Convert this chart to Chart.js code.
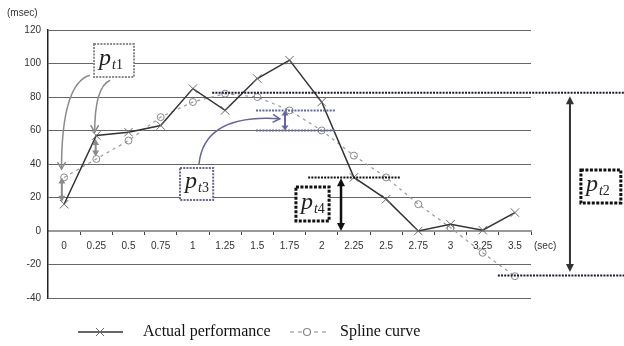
<!DOCTYPE html>
<html><head><meta charset="utf-8">
<script src="https://cdn.jsdelivr.net/npm/chart.js@4.4.0/dist/chart.umd.min.js"></script>
<style>html,body{margin:0;padding:0;background:#fff;}canvas{display:block}</style>
</head><body>
<canvas id="c" width="624" height="346"></canvas>
<script>
const categories = ['0','0.25','0.5','0.75','1','1.25','1.5','1.75','2','2.25','2.5','2.75','3','3.25','3.5'];
const actualPerformance = [16, 57, 59, 63, 85, 72, 91, 102, 77, 32, 19, 0, 4, 0.5, 11];
const splineCurve = [32, 43, 54, 68, 77, 82, 80, 72, 60, 45, 32, 16, 2, -13, -27];
const yMin = -40, yMax = 120, yStep = 20;
const yUnitLabel = '(msec)';
const xUnitLabel = '(sec)';
const legendLabels = ['Actual performance', 'Spline curve'];

const SERIF = '"Liberation Serif", "DejaVu Serif", serif';
const SANS = '"Liberation Sans", Arial, sans-serif';

function dotLine(ctx, x1, y1, x2, y2, color, w, dash) {
  ctx.save(); ctx.strokeStyle = color; ctx.lineWidth = w; ctx.setLineDash(dash);
  ctx.beginPath(); ctx.moveTo(x1, y1); ctx.lineTo(x2, y2); ctx.stroke(); ctx.restore();
}
function head(ctx, x, y, ang, color, len, wid) {
  ctx.save(); ctx.fillStyle = color; ctx.translate(x, y); ctx.rotate(ang);
  ctx.beginPath(); ctx.moveTo(0, 0); ctx.lineTo(-len, -wid); ctx.lineTo(-len, wid); ctx.closePath(); ctx.fill(); ctx.restore();
}
function dblArrow(ctx, x, y1, y2, color, w, len, wid) {
  ctx.save(); ctx.strokeStyle = color; ctx.lineWidth = w;
  ctx.beginPath(); ctx.moveTo(x, y1 + len - 1); ctx.lineTo(x, y2 - len + 1); ctx.stroke(); ctx.restore();
  head(ctx, x, y1, -Math.PI / 2, color, len, wid);
  head(ctx, x, y2, Math.PI / 2, color, len, wid);
}
function curveArrow(ctx, x1, y1, cx, cy, x2, y2, color, w) {
  ctx.save(); ctx.strokeStyle = color; ctx.lineWidth = w;
  ctx.beginPath(); ctx.moveTo(x1, y1); ctx.quadraticCurveTo(cx, cy, x2, y2); ctx.stroke();
  const ang = Math.atan2(y2 - cy, x2 - cx);
  ctx.translate(x2, y2); ctx.rotate(ang);
  ctx.beginPath(); ctx.moveTo(-7, -4); ctx.lineTo(0, 0); ctx.lineTo(-7, 4); ctx.stroke();
  ctx.restore();
}
function ptBox(ctx, x1, y1, x2, y2, sub, color, w, dash) {
  ctx.save();
  ctx.fillStyle = '#fff'; ctx.fillRect(x1, y1, x2 - x1, y2 - y1);
  ctx.strokeStyle = color; ctx.lineWidth = w; ctx.setLineDash(dash);
  ctx.strokeRect(x1, y1, x2 - x1, y2 - y1);
  ctx.setLineDash([]);
  ctx.fillStyle = '#222'; ctx.textBaseline = 'alphabetic'; ctx.textAlign = 'left';
  const h = y2 - y1;
  ctx.font = 'italic 24px ' + SERIF;
  const px = x1 + 5, py = y1 + h * 0.64;
  ctx.fillText('p', px, py);
  const pw = ctx.measureText('p').width;
  ctx.font = 'italic 14px ' + SERIF;
  ctx.fillText('t', px + pw + 1, py + 4);
  const tw = ctx.measureText('t').width;
  ctx.font = '14px ' + SERIF;
  ctx.fillText(sub, px + pw + 1 + tw, py + 4);
  ctx.restore();
}

const annotationPlugin = {
  id: 'annot',
  afterDraw(chart) {
    const ctx = chart.ctx, xs = chart.scales.x, ys = chart.scales.y;
    const X = i => xs.getPixelForValue(i), Y = v => ys.getPixelForValue(v);
    const W = chart.width;
    const gray = '#8a8a8a', purple = '#66669a', black = '#111';

    // p_t1 group
    dblArrow(ctx, X(-0.07), Y(32), Y(17.5), gray, 2, 6, 3.5);
    dblArrow(ctx, X(0.98), Y(55), Y(44.5), gray, 2, 6, 3.5);
    curveArrow(ctx, X(0.8), Y(93), X(-0.08), Y(88), X(-0.08), Y(37), gray, 1.5);
    curveArrow(ctx, X(1.43), Y(90), X(0.95), Y(86), X(0.95), Y(59), gray, 1.5);
    ptBox(ctx, X(0.93), Y(111.6), X(2.17), Y(91.9), '1', gray, 2, [2, 1.2]);

    // p_t3 group
    dotLine(ctx, X(5.96), Y(72), X(8.41), Y(72), purple, 2, [2, 1.2]);
    dotLine(ctx, X(5.96), Y(60), X(8.41), Y(60), purple, 2, [2, 1.2]);
    dblArrow(ctx, X(6.86), Y(72), Y(60), purple, 2, 5, 3.5);
    curveArrow(ctx, X(4.19), Y(40), X(4.35), Y(70), X(6.7), Y(67), purple, 1.5);
    ptBox(ctx, X(3.6), Y(37.6), X(4.63), Y(18.5), '3', purple, 2, [2, 1.2]);

    // p_t2 group
    dotLine(ctx, X(4.6), Y(82.5), W, Y(82.5), '#1a1a33', 2, [2, 1.2]);
    dotLine(ctx, X(13.47), Y(-26.5), W, Y(-26.5), '#1a1a33', 2, [2, 1.2]);
    dblArrow(ctx, X(15.71), Y(80.5), Y(-24.5), '#333', 2, 8, 4);
    ptBox(ctx, X(16.05), Y(36.4), X(17.29), Y(16.7), '2', black, 3, [3, 1.5]);

    // p_t4 group
    dotLine(ctx, X(7.58), Y(32), X(10.43), Y(32), black, 2, [2, 1.2]);
    dblArrow(ctx, X(8.6), Y(31.5), Y(0), black, 2.5, 8, 4);
    ptBox(ctx, X(7.2), Y(26.3), X(8.23), Y(6), '4', black, 3, [3, 1.5]);

    // unit labels
    ctx.save();
    ctx.fillStyle = '#333'; ctx.font = '10px ' + SANS; ctx.textBaseline = 'middle';
    ctx.textAlign = 'left';
    ctx.fillText(yUnitLabel, 7, 13);
    ctx.fillText(xUnitLabel, chart.chartArea.right + 3, Y(0) + 15);
    ctx.restore();

    // legend
    ctx.save();
    const ly = 332;
    ctx.strokeStyle = '#333'; ctx.lineWidth = 1.5;
    ctx.beginPath(); ctx.moveTo(78, ly); ctx.lineTo(123, ly); ctx.stroke();
    ctx.strokeStyle = '#666'; ctx.lineWidth = 1;
    ctx.beginPath(); ctx.moveTo(96, ly - 4); ctx.lineTo(104, ly + 4); ctx.moveTo(104, ly - 4); ctx.lineTo(96, ly + 4); ctx.stroke();
    ctx.strokeStyle = '#888'; ctx.lineWidth = 1.2; ctx.setLineDash([4, 4]);
    ctx.beginPath(); ctx.moveTo(290, ly); ctx.lineTo(327, ly); ctx.stroke();
    ctx.setLineDash([]);
    ctx.fillStyle = '#fff';
    ctx.beginPath(); ctx.arc(307, ly, 3.5, 0, Math.PI * 2); ctx.fill(); ctx.stroke();
    ctx.fillStyle = '#111'; ctx.font = '16px ' + SERIF; ctx.textBaseline = 'middle'; ctx.textAlign = 'left';
    ctx.fillText(legendLabels[0], 143, ly);
    ctx.fillText(legendLabels[1], 340, ly);
    ctx.restore();
  }
};

new Chart(document.getElementById('c'), {
  type: 'line',
  data: {
    labels: categories,
    datasets: [
      {
        label: legendLabels[0], data: actualPerformance,
        borderColor: '#333', borderWidth: 1.5,
        pointStyle: 'crossRot', pointRadius: 6, pointBorderColor: '#6a6a6a', pointBorderWidth: 1,
        tension: 0, order: 1
      },
      {
        label: legendLabels[1], data: splineCurve,
        borderColor: '#999', borderWidth: 1.2, borderDash: [3, 4],
        pointStyle: 'circle', pointRadius: 3.5, pointBorderColor: '#888', pointBorderWidth: 1,
        pointBackgroundColor: 'rgba(255,255,255,0)', tension: 0, order: 2
      }
    ]
  },
  options: {
    responsive: false, animation: false, devicePixelRatio: 1,
    layout: { padding: { top: 30, right: 93, bottom: 48, left: 0 } },
    plugins: { legend: { display: false }, tooltip: { enabled: false } },
    scales: {
      x: {
        type: 'category', position: { y: 0 }, offset: true,
        grid: { offset: true, drawOnChartArea: false, drawTicks: true, tickLength: 3, color: '#444', lineWidth: 1 },
        border: { display: true, color: '#999', width: 2 },
        ticks: { color: '#333', font: { family: SANS, size: 10 }, padding: 6, maxRotation: 0, autoSkip: false },
        afterFit(s) { s.height = 0; }
      },
      y: {
        min: yMin, max: yMax,
        grid: {
          drawTicks: false,
          color: c => (c.tick && c.tick.value === 0) ? 'rgba(0,0,0,0)' : '#666',
          lineWidth: 1
        },
        border: { display: true, color: '#222', width: 1.5 },
        ticks: { stepSize: yStep, color: '#333', font: { family: SANS, size: 10 }, padding: 7 },
        afterFit(s) { s.width = 48; }
      }
    }
  },
  plugins: [annotationPlugin]
});
</script>
</body></html>
